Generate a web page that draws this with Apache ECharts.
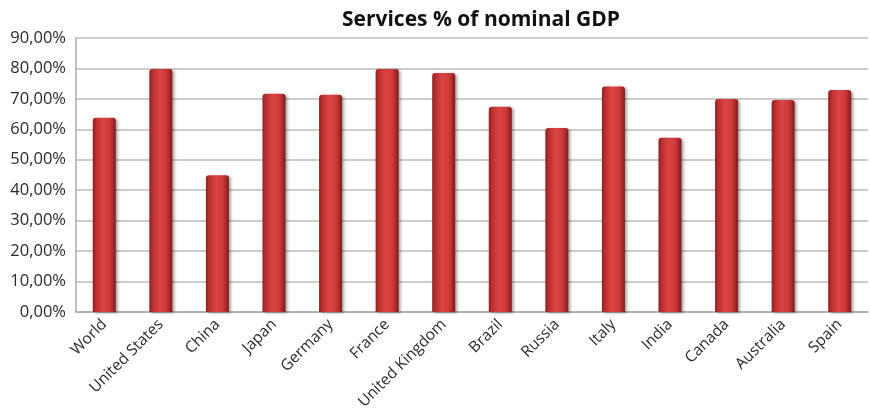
<!DOCTYPE html>
<html><head><meta charset="utf-8">
<script src="https://cdn.jsdelivr.net/npm/echarts@6/dist/echarts.min.js"></script>
<style>html,body{margin:0;padding:0;background:#fff}#c{width:870px;height:415px}</style>
</head><body><div id="c"></div>
<script>
const categories = ["World","United States","China","Japan","Germany","France","United Kingdom","Brazil","Russia","Italy","India","Canada","Australia","Spain"];
const servicesShare = [63.8,79.8,44.9,71.7,71.4,79.8,78.5,67.4,60.4,74.1,57.2,70.0,69.6,72.9];
const yTicks = {min:0,max:90,interval:10};
const titleText = "Services % of nominal GDP";

const chart = echarts.init(document.getElementById('c'));
chart.setOption({
  animation:false,
  title:{text:titleText,left:476,textAlign:'center',top:5,textStyle:{fontFamily:'Open Sans',fontWeight:'bold',fontSize:21,color:'#111'}},
  grid:{left:76,right:2,top:38,bottom:103},
  xAxis:{type:'category',data:categories,
    axisLine:{lineStyle:{color:'#aaa',width:1.5}},
    axisTick:{show:false},
    axisLabel:{rotate:45,interval:0,fontFamily:'Open Sans',fontSize:15.5,color:'#2a2a2a',margin:10}},
  yAxis:{type:'value',min:yTicks.min,max:yTicks.max,interval:yTicks.interval,
    axisLine:{show:true,lineStyle:{color:'#aaa',width:1.5}},
    axisTick:{show:false},
    splitLine:{lineStyle:{color:'#bbb',width:1.5}},
    axisLabel:{fontFamily:'Open Sans',fontSize:16.5,color:'#2a2a2a',margin:10,
      formatter:v=>v.toFixed(2).replace('.',',')+'%'}},
  series:[{type:'bar',data:servicesShare,barWidth:23,
    itemStyle:{
      color:new echarts.graphic.LinearGradient(0,0,1,0,[
        {offset:0,color:'#901f1f'},{offset:0.15,color:'#bb3030'},
        {offset:0.45,color:'#dc4444'},{offset:0.75,color:'#cc3838'},
        {offset:1,color:'#821b1b'}]),
      borderRadius:[3,3,0,0],
      shadowColor:'rgba(0,0,0,0.35)',shadowBlur:3,shadowOffsetX:2,shadowOffsetY:1}
  }]
});
</script></body></html>
